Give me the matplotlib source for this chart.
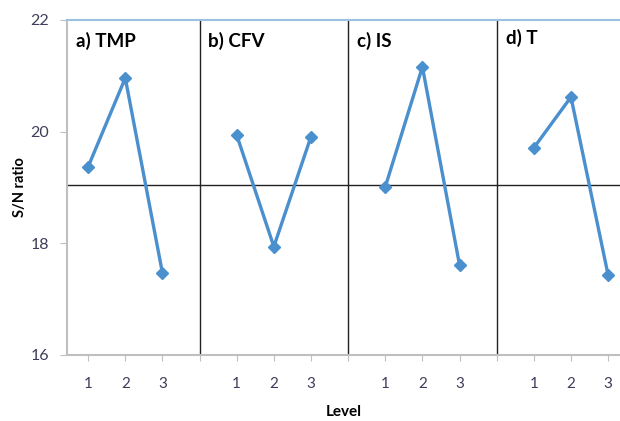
import numpy as np
import matplotlib.pyplot as plt

plt.rcParams['font.family'] = ['Lato', 'DejaVu Sans']

factors = ['a) TMP', 'b) CFV', 'c) IS', 'd) T']
levels = ['1', '2', '3']
sn_tmp = [19.37, 20.96, 17.47]
sn_cfv = [19.94, 17.94, 19.91]
sn_is = [19.01, 21.16, 17.61]
sn_t = [19.71, 20.62, 17.43]
grand_mean = 19.05

blue = '#4a8fce'
tick_col = '#3d3d5c'
x_left = -0.57

fig = plt.figure(figsize=(6.2, 4.21), dpi=100)
ax = fig.add_axes([0.108, 0.157, 0.892, 0.7955])

# each factor takes 3 slots, with an empty slot (the divider) in between
for k, vals in enumerate([sn_tmp, sn_cfv, sn_is, sn_t]):
    x = np.arange(3) + 4 * k
    ax.plot(x, vals, color=blue, lw=2.4, marker='D', ms=6.5, zorder=3)
    edge = x_left if k == 0 else 4 * k - 1
    ax.text(edge + 0.24, 21.62 if k < 3 else 21.68,
            factors[k], fontsize=13.5, fontweight='bold', va='center')

for k in range(1, 4):
    ax.axvline(4 * k - 1, color='#222222', lw=1.0)
ax.axhline(grand_mean, color='#222222', lw=1.0)

ax.set_xlim(x_left, 14.32)
ax.set_ylim(16, 22)
ax.set_yticks([16, 18, 20, 22])
ax.set_xticks(np.arange(15))
ax.set_xticklabels(['' if i % 4 == 3 else levels[i % 4] for i in range(15)])

for s in ['left', 'bottom']:
    ax.spines[s].set_color('#bfbfbf')
    ax.spines[s].set_linewidth(1.5)
ax.spines['top'].set_color('#9cc0e0')
ax.spines['top'].set_linewidth(1.5)
ax.spines['right'].set_visible(False)

ax.tick_params(axis='y', length=5, color='#bfbfbf', labelcolor=tick_col,
               labelsize=11.5, pad=8)
ax.tick_params(axis='x', length=4, color='#bfbfbf', labelcolor=tick_col,
               labelsize=11, pad=12)

ax.set_xlabel('Level', fontsize=11, fontweight='bold', labelpad=10)
ax.set_ylabel('S/N ratio', fontsize=10.5, fontweight='bold', labelpad=2)

fig.savefig('out.png', dpi=100)
